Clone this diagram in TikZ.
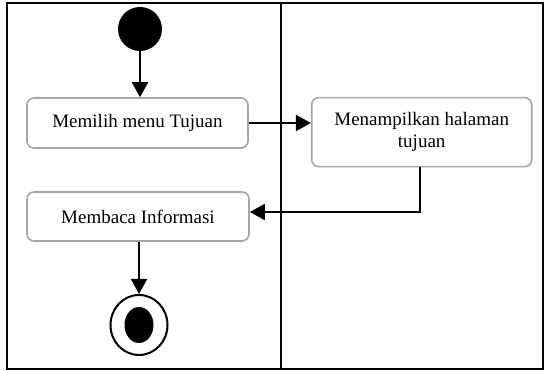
\documentclass[tikz,border=0pt]{standalone}
\usepackage{fontspec}
\setmainfont{Liberation Serif}
\usetikzlibrary{arrows.meta,shapes.geometric}
\begin{document}
\begin{tikzpicture}[x=1pt,y=-1pt,
  actbox/.style={draw=black!35, line width=1.6pt, rounded corners=7pt, fill=white,
    align=center, inner sep=0pt, font=\fontsize{19}{22}\selectfont},
  flow/.style={line width=2pt, -{Triangle[length=15pt,width=16pt]}},
  frame/.style={line width=2pt}]
  \useasboundingbox (0,0) rectangle (550,371);
  % swimlane frame and divider
  \draw[frame] (7,3) rectangle (543,369);
  \draw[frame] (281,3) -- (281,369);
  % start and end states
  \node[circle, fill=black, minimum size=44pt, inner sep=0pt] (start) at (140,29) {};
  \node[ellipse, draw=black, line width=2pt, fill=white, minimum width=57pt, minimum height=60pt, inner sep=0pt] (end) at (139,325) {};
  \node[ellipse, fill=black, minimum width=29pt, minimum height=36pt, inner sep=0pt] (endin) at (139,325) {};
  % activities
  \node[actbox, minimum width=221pt, minimum height=50pt] (pilih) at (137.5,123) {Memilih menu Tujuan};
  \node[actbox, minimum width=220pt, minimum height=69pt] (tampil) at (421.7,132.2) {Menampilkan halaman\\tujuan};
  \node[actbox, minimum width=222pt, minimum height=49pt] (baca) at (138,216.5) {Membaca Informasi};
  % transitions
  \draw[flow] (start.south) -- (pilih.north -| start.south);
  \draw[flow] (pilih.east) -- (tampil.west |- pilih.east);
  \coordinate (turn) at (420,212);
  \draw[flow] (tampil.south -| turn) -- (turn) -- (baca.east |- turn);
  \draw[flow] (baca.south -| end.north) -- (end.north);
\end{tikzpicture}
\end{document}
